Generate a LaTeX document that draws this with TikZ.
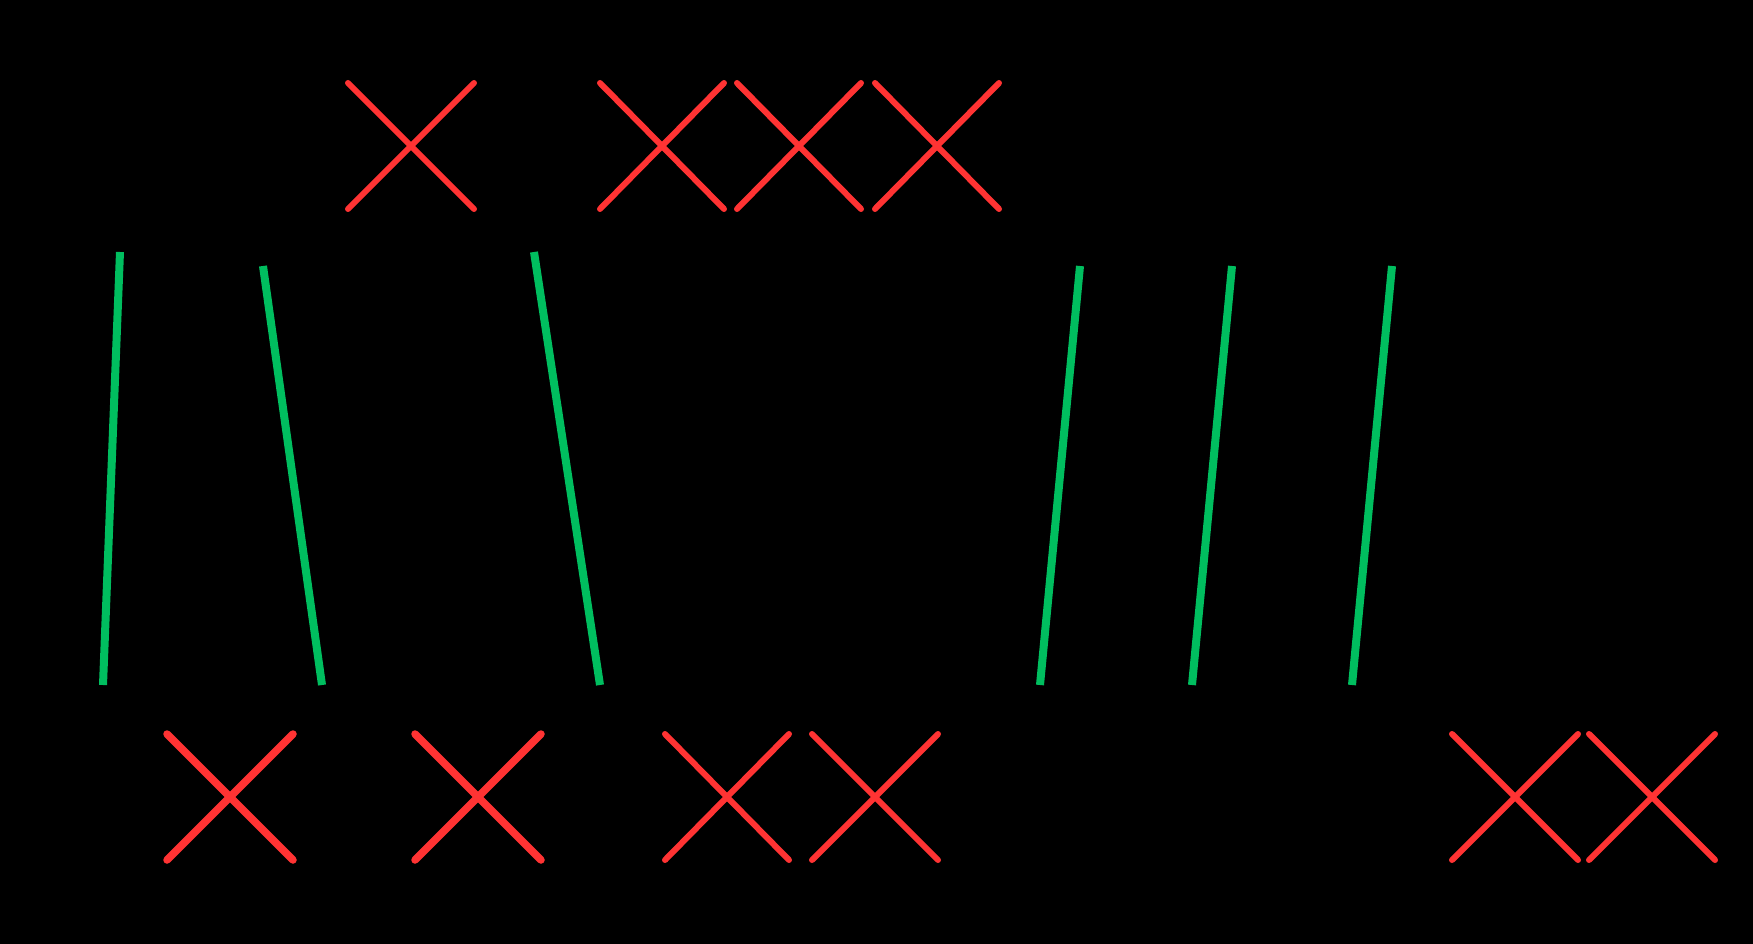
\documentclass[tikz,border=0pt]{standalone}
\definecolor{crossred}{RGB}{255,51,51}
\definecolor{slantgreen}{RGB}{0,190,95}
\tikzset{
  crossline/.style={draw=crossred, line width=6pt, line cap=round},
  thickcross/.style={crossline, line width=7.5pt},
  slantline/.style={draw=slantgreen, line width=8pt, line cap=butt},
}
\newcommand{\crossmark}[4][]{% [extra style] center x, center y, half width
  \draw[crossline,#1] (#2-#4,#3-63) -- (#2+#4,#3+63);
  \draw[crossline,#1] (#2+#4,#3-63) -- (#2-#4,#3+63);
}
\begin{document}
\begin{tikzpicture}[x=1pt,y=-1pt]
\fill[black] (0,0) rectangle (1753,944);
\useasboundingbox (0,0) rectangle (1753,944);
% top crosses
\crossmark{411}{146}{63}
\crossmark{662}{146}{62}
\crossmark{799}{146}{62}
\crossmark{937}{146}{62}
% green slanted lines
\draw[slantline] (120,252) -- (103,685);
\draw[slantline] (263,266) -- (322,685);
\draw[slantline] (534,252) -- (600,685);
\draw[slantline] (1080,266) -- (1040,685);
\draw[slantline] (1232,266) -- (1192,685);
\draw[slantline] (1392,266) -- (1352,685);
% bottom crosses
\crossmark[thickcross]{230}{797}{63}
\crossmark[thickcross]{478}{797}{63}
\crossmark{727}{797}{62}
\crossmark{875}{797}{63}
\crossmark{1515}{797}{63}
\crossmark{1652}{797}{63}
\end{tikzpicture}
\end{document}
